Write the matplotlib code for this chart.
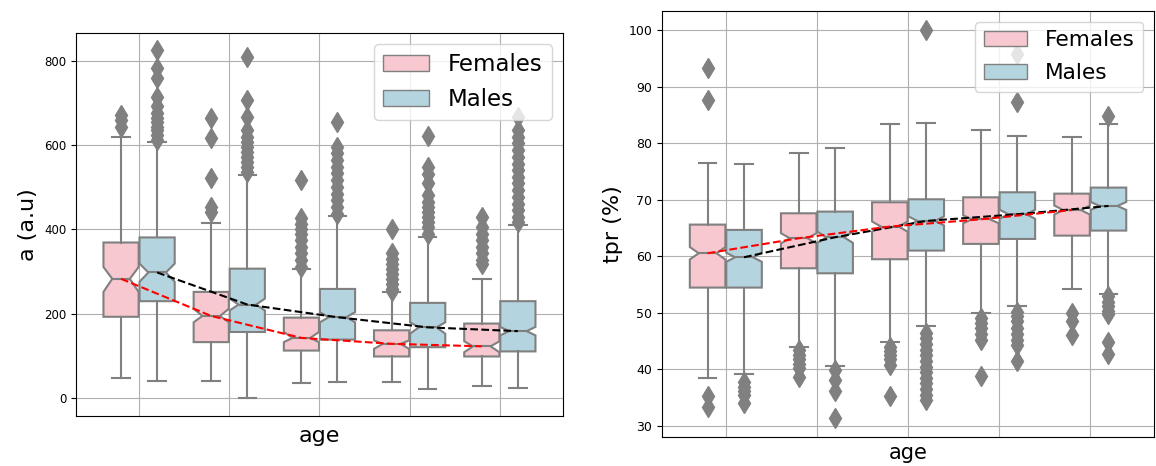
import matplotlib
matplotlib.use('Agg')
import matplotlib.pyplot as plt
import matplotlib.patches as mpatches
import numpy as np

# groups (age bins, labels hidden in the original)
n_groups = 5

# ---- left panel: a (a.u) ----
a_f_med = [283, 195, 143, 129, 123]
a_f_q1 = [193, 133, 113, 99, 99]
a_f_q3 = [369, 252, 191, 161, 177]
a_f_lo = [48, 40, 36, 38, 28]
a_f_hi = [620, 416, 307, 252, 283]
a_f_cilo = [252, 180, 133, 117, 109]
a_f_cihi = [311, 212, 157, 137, 135]
a_f_fliers = [
    [642, 660, 672],
    [441, 453, 521, 616, 665],
    [311, 327, 343, 358, 374, 390, 402, 414, 426, 518],
    [255, 260, 271, 283, 295, 307, 319, 331, 343, 402],
    [319, 327, 343, 358, 374, 390, 406, 430],
]

a_m_med = [298, 222, 192, 168, 159]
a_m_q1 = [230, 157, 139, 121, 111]
a_m_q3 = [381, 307, 259, 226, 230]
a_m_lo = [40, 0, 38, 21, 24]
a_m_hi = [607, 529, 432, 383, 410]
a_m_cilo = [276, 208, 180, 153, 149]
a_m_cihi = [319, 236, 204, 180, 169]
a_m_fliers = [
    [611, 623, 635, 643, 655, 663, 675, 692, 714, 758, 782, 825],
    [536, 548, 560, 572, 584, 596, 608, 619, 635, 667, 707, 809],
    [437, 453, 469, 485, 501, 517, 533, 548, 564, 580, 596, 654],
    [390, 405, 417, 429, 441, 453, 465, 481, 509, 532, 548, 621],
    [418, 430, 445, 461, 477, 493, 509, 525, 540, 556, 572, 588, 604, 619, 635, 667],
]

# ---- right panel: tpr (%) ----
t_f_med = [60.55, 63.2, 65.27, 66.56, 68.2]
t_f_q1 = [54.47, 57.89, 59.49, 62.2, 63.67]
t_f_q3 = [65.62, 67.62, 69.57, 70.45, 71.1]
t_f_lo = [38.43, 44.04, 44.92, 50.05, 54.3]
t_f_hi = [76.53, 78.24, 83.49, 82.37, 81.13]
t_f_cilo = [59.45, 62.3, 64.37, 65.86, 67.4]
t_f_cihi = [61.65, 64.1, 66.17, 67.26, 69.0]
t_f_fliers = [
    [33.4, 35.2, 87.7, 93.3],
    [38.6, 40.3, 41.0, 41.8, 42.6, 43.4],
    [35.2, 40.8, 41.8, 42.5, 43.2, 44.0],
    [38.9, 45.2, 46.2, 47.4, 48.2, 49.0],
    [46.1, 48.5, 49.9],
]

t_m_med = [59.84, 63.38, 66.27, 67.45, 68.92]
t_m_q1 = [54.47, 57.0, 61.02, 63.08, 64.56]
t_m_q3 = [64.68, 67.92, 70.1, 71.34, 72.17]
t_m_lo = [39.26, 40.6, 47.75, 51.23, 53.35]
t_m_hi = [76.29, 79.12, 83.67, 81.25, 83.49]
t_m_cilo = [59.04, 62.38, 65.47, 66.65, 68.22]
t_m_cihi = [60.64, 64.38, 67.07, 68.25, 69.62]
t_m_fliers = [
    [34.0, 35.5, 36.2, 36.9, 37.8],
    [31.4, 36.1, 38.1, 39.9],
    [34.5, 35.5, 36.5, 37.6, 38.5, 39.5, 40.4, 41.5, 42.5, 43.4, 44.5, 45.5, 46.4, 100.0],
    [41.4, 44.3, 45.2, 46.3, 47.4, 48.5, 49.4, 50.2, 87.4, 95.9],
    [42.7, 44.9, 49.8, 50.4, 51.2, 52.0, 52.9, 84.8],
]

# seaborn-style desaturated pink / lightblue
f_color = '#f7c8d0'
m_color = '#b4d4df'
edge = '#808080'


def make_stats(med, q1, q3, lo, hi, cilo, cihi, fliers):
    return [dict(med=med[i], q1=q1[i], q3=q3[i], whislo=lo[i], whishi=hi[i],
                 cilo=cilo[i], cihi=cihi[i], fliers=np.array(fliers[i]))
            for i in range(len(med))]


def draw_boxes(ax, stats, pos, color, msize):
    ax.bxp(stats, positions=pos, widths=0.39, patch_artist=True, shownotches=True,
           manage_ticks=False,
           boxprops=dict(facecolor=color, edgecolor=edge, linewidth=1.5),
           whiskerprops=dict(color=edge, linewidth=1.5),
           capprops=dict(color=edge, linewidth=1.5),
           medianprops=dict(color=edge, linewidth=1.5),
           flierprops=dict(marker='d', markerfacecolor=edge, markeredgecolor=edge,
                           markersize=msize, linestyle='none'))


fig = plt.figure(figsize=(11.56, 4.66), dpi=100)
ax1 = fig.add_axes([0.0657, 0.108, 0.4213, 0.822])
ax2 = fig.add_axes([0.5727, 0.0616, 0.4256, 0.9148])

x = np.arange(n_groups)
xf = x - 0.2
xm = x + 0.2

panels = [
    (ax1, make_stats(a_f_med, a_f_q1, a_f_q3, a_f_lo, a_f_hi, a_f_cilo, a_f_cihi, a_f_fliers),
     make_stats(a_m_med, a_m_q1, a_m_q3, a_m_lo, a_m_hi, a_m_cilo, a_m_cihi, a_m_fliers),
     a_f_med, a_m_med, 'a (a.u)', 16, 4, 16.5, 8.5, 0.5, 10),
    (ax2, make_stats(t_f_med, t_f_q1, t_f_q3, t_f_lo, t_f_hi, t_f_cilo, t_f_cihi, t_f_fliers),
     make_stats(t_m_med, t_m_q1, t_m_q3, t_m_lo, t_m_hi, t_m_cilo, t_m_cihi, t_m_fliers),
     t_f_med, t_m_med, 'tpr (%)', 15, 0.5, 15.6, 9, 0.6, 10),
]

for ax, fst, mst, fmed, mmed, ylab, xlsize, xlpad, legsize, ticksize, lspace, msize in panels:
    ax.set_axisbelow(True)
    ax.grid(True, color='#b0b0b0', linewidth=0.8)
    draw_boxes(ax, fst, xf, f_color, msize)
    draw_boxes(ax, mst, xm, m_color, msize)
    ax.plot(xm, mmed, '--', color='black', lw=1.5, zorder=3)
    ax.plot(xf, fmed, '--', color='red', lw=1.5, zorder=3)
    ax.set_xlim(-0.7, 4.7)
    ax.set_xticks(x)
    ax.set_xticklabels([])
    ax.tick_params(axis='x', length=0)
    ax.tick_params(axis='y', labelsize=ticksize)
    ax.set_xlabel('age', fontsize=xlsize, labelpad=xlpad)
    ax.set_ylabel(ylab, fontsize=16)
    handles = [mpatches.Patch(facecolor=f_color, edgecolor=edge, label='Females'),
               mpatches.Patch(facecolor=m_color, edgecolor=edge, label='Males')]
    ax.legend(handles=handles, loc='upper right', fontsize=legsize, labelspacing=lspace)

ax1.set_yticks([0, 200, 400, 600, 800])
ax2.set_yticks([30, 40, 50, 60, 70, 80, 90, 100])

fig.savefig('out.png', dpi=100)
